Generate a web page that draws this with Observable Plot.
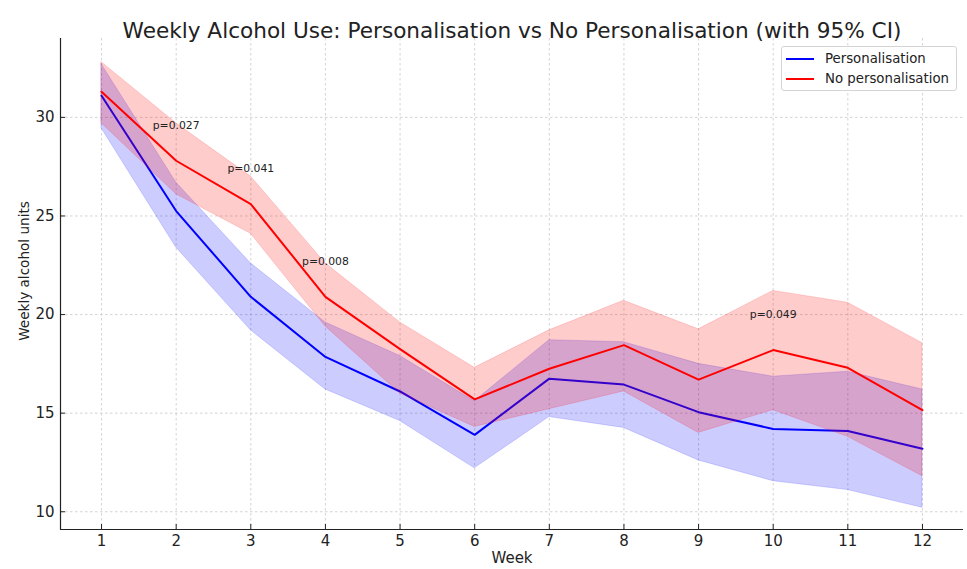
<!DOCTYPE html>
<html><head><meta charset="utf-8">
<script src="https://cdn.jsdelivr.net/npm/d3@7"></script>
<script src="https://cdn.jsdelivr.net/npm/@observablehq/plot@0.6"></script>
<style>
body{margin:0;background:#fff;font-family:"DejaVu Sans",sans-serif;}
#wrap{position:relative;width:967px;height:569px;}
.legend{position:absolute;left:781px;top:46px;width:176px;height:45px;border:1px solid #d4d4d4;border-radius:3px;background:rgba(255,255,255,0.85);font-size:13.3px;color:#222;box-sizing:border-box;}
.item{position:absolute;left:0;height:16px;line-height:16px;}
.item .sw{position:absolute;left:4px;top:7px;width:28px;height:2px;}
.item span{position:absolute;left:43px;white-space:nowrap;top:0;}
</style></head>
<body>
<div id="wrap"></div>
<script>
const weeks = [1,2,3,4,5,6,7,8,9,10,11,12];
const persMean = [31.1, 25.25, 20.9, 17.85, 16.1, 13.9, 16.75, 16.45, 15.05, 14.2, 14.1, 13.2];
const persLow  = [29.45, 23.4, 19.2, 16.2, 14.6, 12.2, 14.8, 14.25, 12.6, 11.55, 11.1, 10.2];
const persHigh = [32.7, 26.7, 22.6, 19.6, 17.9, 15.6, 18.7, 18.6, 17.5, 16.85, 17.1, 16.2];
const noMean = [31.3, 27.8, 25.6, 20.9, 18.25, 15.7, 17.25, 18.45, 16.7, 18.2, 17.3, 15.15];
const noLow  = [29.7, 26.1, 24.1, 19.4, 16.0, 14.3, 15.2, 16.1, 14.0, 15.15, 13.8, 11.8];
const noHigh = [32.8, 29.7, 27.0, 22.6, 19.6, 17.3, 19.2, 20.7, 19.25, 21.2, 20.6, 18.55];
const pWeeks = [2, 3, 4, 10];
const pLabels = ["p=0.027", "p=0.041", "p=0.008", "p=0.049"];
const yTicks = [10, 15, 20, 25, 30];
const seriesNames = ["Personalisation", "No personalisation"];
const title = "Weekly Alcohol Use: Personalisation vs No Personalisation (with 95% CI)";

const W = 967, H = 569, mL = 60, mR = 4, mT = 38, mB = 40;
const fw = W - mL - mR, fh = H - mT - mB;
const rows = weeks.map((w, i) => ({week: w, pm: persMean[i], pl: persLow[i], ph: persHigh[i], nm: noMean[i], nl: noLow[i], nh: noHigh[i]}));
const pRows = pWeeks.map((w, i) => ({week: w, label: pLabels[i], y: noMean[weeks.indexOf(w)] + 1.8}));
const gridStyle = {stroke: "#c8c8c8", strokeDasharray: "2.5,2.5", strokeWidth: 0.8};
const ink = "#222";

const chart = Plot.plot({
  width: W, height: H,
  marginLeft: mL, marginRight: mR, marginTop: mT, marginBottom: mB,
  style: {fontFamily: "DejaVu Sans", fontSize: "15px", background: "white", color: ink},
  x: {domain: [0.45, 12.55]},
  y: {domain: [9.1, 34.0]},
  marks: [
    Plot.ruleX(weeks, {x: d => d, ...gridStyle}),
    Plot.ruleY(yTicks, {y: d => d, ...gridStyle}),
    Plot.areaY(rows, {x: "week", y1: "pl", y2: "ph", fill: "blue", fillOpacity: 0.2, stroke: "blue", strokeOpacity: 0.15, strokeWidth: 1}),
    Plot.lineY(rows, {x: "week", y: "pm", stroke: "blue", strokeWidth: 2}),
    Plot.areaY(rows, {x: "week", y1: "nl", y2: "nh", fill: "red", fillOpacity: 0.2, stroke: "red", strokeOpacity: 0.15, strokeWidth: 1}),
    Plot.lineY(rows, {x: "week", y: "nm", stroke: "red", strokeWidth: 2}),
    Plot.text(pRows, {x: "week", y: "y", text: "label", fontSize: 10.8, fill: ink}),
    Plot.ruleX([0.45], {stroke: ink, strokeWidth: 1.2}),
    Plot.ruleY([9.1], {stroke: ink, strokeWidth: 1.2}),
    Plot.tickX(weeks, {x: d => d, insetTop: fh - 5, stroke: ink}),
    Plot.tickY(yTicks, {y: d => d, insetRight: fw - 5, stroke: ink}),
    Plot.axisX(weeks, {tickSize: 0, tickPadding: 6, tickFormat: d => d, label: null, fontSize: 15, fill: ink}),
    Plot.axisY(yTicks, {tickSize: 0, tickPadding: 6, label: null, fontSize: 15, fill: ink}),
    Plot.text(["Week"], {frameAnchor: "bottom", dy: 33, fontSize: 15, fill: ink}),
    Plot.text(["Weekly alcohol units"], {frameAnchor: "left", textAnchor: "middle", dx: -36, dy: -13, rotate: -90, fontSize: 13.6, fill: ink}),
    Plot.text([title], {frameAnchor: "top", dy: -16, fontSize: 21.6, fill: ink})
  ]
});
const wrap = document.getElementById("wrap");
wrap.appendChild(chart);
const legend = document.createElement("div");
legend.className = "legend";
const colors = ["blue", "red"];
seriesNames.forEach((name, i) => {
  const it = document.createElement("div");
  it.className = "item";
  it.style.top = (4 + i * 19.5) + "px";
  it.innerHTML = `<div class="sw" style="background:${colors[i]}"></div><span>${name}</span>`;
  legend.appendChild(it);
});
wrap.appendChild(legend);
</script>
</body></html>
